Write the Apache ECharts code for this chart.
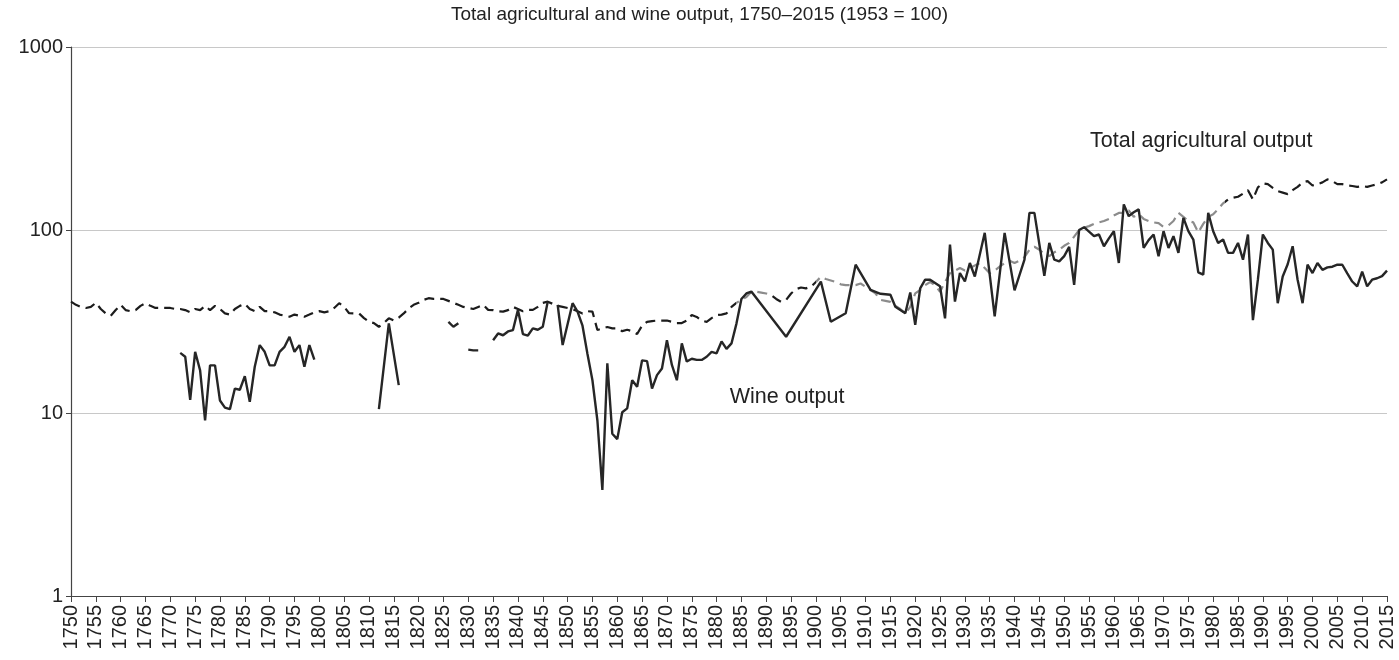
<!DOCTYPE html>
<html>
<head>
<meta charset="utf-8">
<script src="https://cdn.jsdelivr.net/npm/echarts@6/dist/echarts.min.js"></script>
<style>
  html, body { margin: 0; padding: 0; background: #ffffff; }
  #chart { width: 1399px; height: 660px; }
</style>
</head>
<body>
<div id="chart"></div>
<script>
// Total agricultural output, one value per year from 1750 to 2015 (1953 = 100)
const agriStartYear = 1750;
const agriValues = [
  40.6, 39, 38, 37.5, 38, 40, 37, 35, 34, 36.5,              // 1750s
  39, 36.5, 36, 36.5, 38.5, 39.8, 38.5, 37.5, 37.5, 37.5,    // 1760s
  37.5, 37, 37, 36.5, 35.5, 37, 36.5, 38.5, 36.5, 38.5,      // 1770s
  37, 35, 34.5, 37, 38.5, 39.5, 37, 36, 38, 36,              // 1780s
  36, 35.5, 34.5, 34, 33.6, 34.5, 34, 33.6, 34.5, 35.5,      // 1790s
  36, 35.5, 36, 37.5, 39.8, 38, 35.1, 35, 35, 33,            // 1800s
  31.5, 31, 29.6, 31, 32.9, 32, 33.2, 35, 37.3, 39,          // 1810s
  40, 41.5, 42.4, 42, 42, 42, 41, 40, 39, 38,                // 1820s
  37.5, 37, 38, 39, 36.6, 36.5, 36, 35.8, 36.5, 38,          // 1830s
  37, 36, 36.6, 36.6, 38, 40, 40.6, 39.5, 38.5, 38,          // 1840s
  37.5, 37, 36, 35, 36, 35.8, 28.4, 29, 29.5, 29,            // 1850s
  29, 28, 28.5, 28, 27, 30, 31.5, 31.8, 32, 32,              // 1860s
  32, 31.5, 31, 31, 32, 34.3, 33.5, 32, 31.5, 33,            // 1870s
  34.3, 34.5, 35, 38, 40, 41.5, 43, 46, 46, 45.5,            // 1880s
  45, 44, 42, 40.5, 41.5, 45, 47.5, 48.5, 48, 49,            // 1890s
  52, 55.5, 54, 53, 52, 50.5, 50, 50, 50, 51,                // 1900s
  49, 47, 45, 41.5, 41, 40.5, 38.5, 37, 35, 38,              // 1910s
  45, 47, 50, 52, 50, 46, 52, 58, 60, 62,                    // 1920s
  60, 62, 64, 66, 62, 58, 60, 63, 66, 68,                    // 1930s
  66, 68, 71, 78, 81, 78, 74, 72, 75.5, 78,                  // 1940s
  82, 85, 92, 100, 103, 105, 108, 110, 112, 115,             // 1950s
  120, 124, 124, 128, 118, 122, 115, 112, 110, 109,          // 1960s
  104, 106, 112, 124, 118, 112, 110, 97, 108, 118,           // 1970s
  122, 130, 140, 147, 150, 152, 158, 165, 147, 171,          // 1980s
  180, 178, 170, 163, 160, 157, 165, 172, 182, 185,          // 1990s
  175, 178, 182, 189, 185, 178, 178, 175, 174, 172,          // 2000s
  174, 172, 175, 178, 182, 189                               // 2010-2015
];

// Wine output: years with an observation; a null value breaks the line
const wineYears = [
  1772, 1773, 1774, 1775, 1776, 1777, 1778, 1779, 1780, 1781,
  1782, 1783, 1784, 1785, 1786, 1787, 1788, 1789, 1790, 1791,
  1792, 1793, 1794, 1795, 1796, 1797, 1798, 1799, 1800,
  1812, 1814, 1816, 1817,
  1826, 1827, 1828, 1829,
  1830, 1831, 1832, 1833,
  1835, 1836, 1837, 1838, 1839, 1840, 1841, 1842, 1843, 1844, 1845, 1846, 1847,
  1848, 1849, 1851, 1852, 1853, 1854, 1855, 1856, 1857, 1858, 1859,
  1860, 1861, 1862, 1863, 1864, 1865, 1866, 1867, 1868, 1869,
  1870, 1871, 1872, 1873, 1874, 1875, 1876, 1877, 1878, 1879,
  1880, 1881, 1882, 1883, 1884, 1885, 1886, 1887, 1894, 1901,
  1903, 1906, 1908, 1911, 1913, 1915, 1916, 1918, 1919, 1920,
  1921, 1922, 1923, 1925, 1926, 1927, 1928, 1929, 1930, 1931,
  1932, 1934, 1936, 1938, 1940, 1942, 1943, 1944, 1946, 1947,
  1948, 1949, 1950, 1951, 1952, 1953, 1954, 1955, 1956, 1957,
  1958, 1959, 1960, 1961, 1962, 1963, 1964, 1965, 1966, 1967,
  1968, 1969, 1970, 1971, 1972, 1973, 1974, 1975, 1976, 1977,
  1978, 1979, 1980, 1981, 1982, 1983, 1984, 1985, 1986, 1987,
  1988, 1989, 1990, 1991, 1992, 1993, 1994, 1995, 1996, 1997,
  1998, 1999, 2000, 2001, 2002, 2003, 2004, 2005, 2006, 2007,
  2008, 2009, 2010, 2011, 2012, 2013, 2014, 2015
];
const wineValues = [
  21.3, 20.3, 11.8, 21.6, 17.1, 9.1, 18.2, 18.2, 11.7, 10.7,
  10.5, 13.6, 13.4, 15.9, 11.5, 17.9, 23.5, 21.6, 18.2, 18.2,
  21.6, 23, 26.1, 21.6, 23.5, 17.9, 23.5, 19.6, null,
  10.5, 30.9, 14.2, null,
  31.5, 29.6, 30.9, null,
  22.2, 22, 22, null,
  25, 27.2, 26.6, 27.9, 28.4, 36.6, 27, 26.5, 29, 28.5, 29.6, 40.6, null,
  39, 23.5, 39.8, 35.8, 30, 21, 15.1, 9.1, 3.8, 18.7, 7.7,
  7.2, 10.1, 10.6, 15.1, 13.9, 19.4, 19.2, 13.6, 16.1, 17.5,
  25, 18.3, 15.1, 24, 19.1, 19.8, 19.5, 19.5, 20.3, 21.6,
  21.2, 24.6, 22.4, 24, 30.8, 42, 45, 46.1, 26.1, 52.3,
  31.5, 35.1, 64.6, 47.1, 44.8, 44.3, 38.1, 35.1, 45.6, 30.3,
  48, 53.5, 53.5, 49.2, 32.9, 83.2, 40.6, 58.2, 52.3, 66,
  55.7, 96.5, 33.7, 96.5, 46.8, 68.8, 124, 124, 56.2, 85,
  68.8, 67.4, 72, 80.9, 50.2, 100, 103.6, 98, 92.5, 94.5,
  81.5, 90, 98.5, 66, 138, 119, 125, 129.6, 79.8, 88,
  94.5, 71.8, 98.5, 79.8, 92.5, 75, 116.6, 98.5, 88.7, 58.7,
  57, 124, 98.5, 85, 88.7, 75, 75, 85, 68.8, 94.5,
  32.2, 53.5, 94.5, 85, 78.1, 39.8, 55.7, 65, 81.5, 53.5,
  39.8, 64.6, 58.2, 66, 60.6, 62.5, 63, 64.6, 64.6, 58,
  52.3, 49.2, 59.3, 49.2, 53.5, 54.5, 56, 60
];

const titleText = 'Total agricultural and wine output, 1750\u20132015 (1953 = 100)';
const agriLabel = 'Total agricultural output';
const wineLabel = 'Wine output';
const yMin = 1, yMax = 1000;
const xMin = 1750, xMax = 2015, xStep = 5;

const agriData = agriValues.map((v, i) => [agriStartYear + i, v]);
const wineData = wineYears.map((y, i) => [y, wineValues[i]]);

// share of the year range, used to grey the dashed line where it runs under the wine line
const frac = (yr) => (yr - xMin) / (xMax - xMin);
const dark = '#1c1c1c', grey = '#8c8c8c';
const agriStroke = {
  type: 'linear', x: 0, y: 0, x2: 1, y2: 0,
  colorStops: [
    { offset: 0, color: dark },
    { offset: frac(1884), color: dark }, { offset: frac(1884), color: grey },
    { offset: frac(1891), color: grey }, { offset: frac(1891), color: dark },
    { offset: frac(1900), color: dark }, { offset: frac(1900), color: grey },
    { offset: frac(1982), color: grey }, { offset: frac(1982), color: dark },
    { offset: 1, color: dark }
  ]
};

const font = '"Liberation Sans", Arial, Helvetica, sans-serif';
const chart = echarts.init(document.getElementById('chart'), null, { renderer: 'canvas' });

chart.setOption({
  animation: false,
  backgroundColor: '#ffffff',
  title: {
    text: titleText,
    left: 'center',
    top: 0,
    textStyle: { fontFamily: font, fontSize: 19, fontWeight: 'normal', color: '#222' }
  },
  grid: { left: 71, right: 12, top: 47, bottom: 64, containLabel: false },
  xAxis: {
    type: 'value',
    min: xMin, max: xMax, interval: xStep,
    axisLine: { show: true, onZero: false, lineStyle: { color: '#444', width: 1.2 } },
    axisTick: { show: true, length: 6, lineStyle: { color: '#444' } },
    axisLabel: {
      rotate: 90, margin: 9, fontFamily: font, fontSize: 20, color: '#222',
      showMinLabel: true, showMaxLabel: true,
      formatter: (v) => String(v)
    },
    splitLine: { show: false }
  },
  yAxis: {
    type: 'log', logBase: 10, min: yMin, max: yMax,
    axisLine: { show: true, lineStyle: { color: '#444', width: 1.2 } },
    axisTick: { show: true, length: 5, lineStyle: { color: '#444' } },
    axisLabel: { margin: 8, fontFamily: font, fontSize: 20, color: '#222', formatter: (v) => String(Math.round(v)) },
    splitLine: { show: true, lineStyle: { color: '#c8c8c8', width: 1.2 } }
  },
  series: [
    {
      name: agriLabel,
      type: 'line',
      data: agriData,
      showSymbol: false,
      symbol: 'none',
      connectNulls: false,
      lineStyle: { color: agriStroke, width: 2.2, type: [10, 6] },
      z: 2,
      markPoint: {
        symbol: 'circle', symbolSize: 1,
        itemStyle: { color: 'rgba(0,0,0,0)' },
        label: { show: true, position: 'inside', fontFamily: font, fontSize: 21.5, color: '#222',
                 formatter: () => agriLabel },
        data: [{ coord: [1977.6, 308] }]
      }
    },
    {
      name: wineLabel,
      type: 'line',
      data: wineData,
      showSymbol: false,
      symbol: 'none',
      connectNulls: false,
      lineStyle: { color: '#262626', width: 2.4 },
      z: 3,
      markPoint: {
        symbol: 'circle', symbolSize: 1,
        itemStyle: { color: 'rgba(0,0,0,0)' },
        label: { show: true, position: 'inside', fontFamily: font, fontSize: 21.5, color: '#222',
                 formatter: () => wineLabel },
        data: [{ coord: [1894.2, 12.2] }]
      }
    }
  ]
});
</script>
</body>
</html>
